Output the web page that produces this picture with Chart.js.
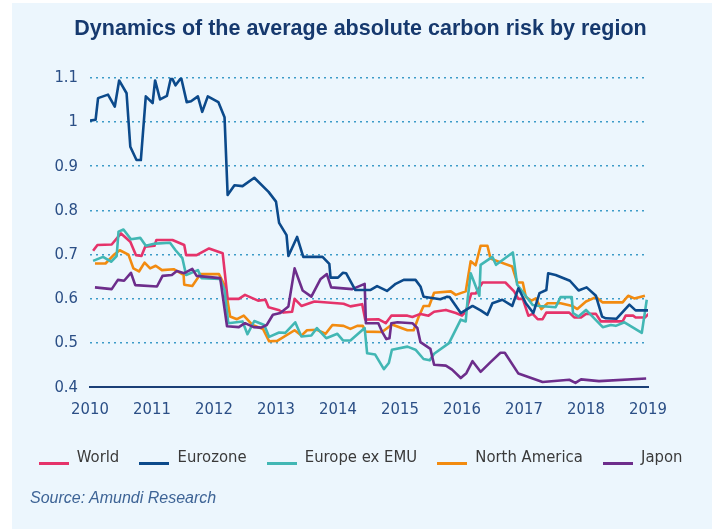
<!DOCTYPE html>
<html><head><meta charset="utf-8">
<script src="https://cdn.jsdelivr.net/npm/chart.js@4.4.1/dist/chart.umd.min.js"></script>
<style>
html,body{margin:0;padding:0;background:#ffffff;}
#panel{position:absolute;left:12px;top:3px;width:700px;height:526px;background:#ecf6fd;}
#wrap{position:absolute;left:0;top:0;width:712px;height:529px;}
#src{position:absolute;left:30px;top:490px;line-height:16px;font-family:"Liberation Sans",Arial,sans-serif;font-style:italic;font-size:16px;color:#3e6496;white-space:nowrap;}
</style></head><body>
<div id="panel"></div>
<div id="wrap"><canvas id="c" width="712" height="529"></canvas></div>
<div id="src">Source: Amundi Research</div>
<script>
const titleText = 'Dynamics of the average absolute carbon risk by region';
const seriesNames = ['World', 'Eurozone', 'Europe ex EMU', 'North America', 'Japon'];
const seriesColors = ['#e5336a', '#0c4a8b', '#42b7b4', '#f28b10', '#6d2d8b'];
const xTickValues = [2010, 2011, 2012, 2013, 2014, 2015, 2016, 2017, 2018, 2019];
const xTickLabels = ['2010', '2011', '2012', '2013', '2014', '2015', '2016', '2017', '2018', '2019'];
const yTickValues = [0.4, 0.5, 0.6, 0.7, 0.8, 0.9, 1.0, 1.1];
const yTickLabels = ['0.4', '0.5', '0.6', '0.7', '0.8', '0.9', '1', '1.1'];

const world = [[2010.05,0.709],[2010.12,0.722],[2010.35,0.723],[2010.50,0.748],[2010.65,0.729],[2010.74,0.699],[2010.83,0.697],[2010.89,0.718],[2011.04,0.720],[2011.07,0.733],[2011.33,0.733],[2011.52,0.722],[2011.55,0.699],[2011.72,0.699],[2011.92,0.714],[2012.14,0.703],[2012.22,0.600],[2012.40,0.600],[2012.50,0.609],[2012.71,0.596],[2012.83,0.598],[2012.88,0.581],[2013.04,0.575],[2013.12,0.569],[2013.26,0.571],[2013.30,0.600],[2013.41,0.584],[2013.62,0.594],[2014.09,0.589],[2014.20,0.583],[2014.39,0.588],[2014.44,0.553],[2014.65,0.554],[2014.77,0.545],[2014.86,0.562],[2015.12,0.562],[2015.20,0.559],[2015.33,0.566],[2015.46,0.562],[2015.55,0.571],[2015.74,0.575],[2015.90,0.568],[2016.00,0.562],[2016.06,0.571],[2016.15,0.612],[2016.22,0.612],[2016.33,0.637],[2016.70,0.637],[2016.84,0.617],[2016.91,0.600],[2016.98,0.600],[2017.07,0.562],[2017.14,0.566],[2017.22,0.554],[2017.30,0.554],[2017.36,0.569],[2017.73,0.569],[2017.81,0.558],[2017.92,0.558],[2018.00,0.566],[2018.16,0.566],[2018.24,0.549],[2018.59,0.549],[2018.64,0.562],[2018.76,0.562],[2018.80,0.558],[2018.95,0.558],[2019.01,0.566]];

const eurozone = [[2010.00,1.003],[2010.09,1.005],[2010.13,1.054],[2010.29,1.062],[2010.40,1.035],[2010.47,1.094],[2010.59,1.065],[2010.65,0.944],[2010.75,0.914],[2010.82,0.914],[2010.90,1.058],[2011.01,1.043],[2011.05,1.094],[2011.13,1.051],[2011.24,1.059],[2011.31,1.103],[2011.38,1.083],[2011.47,1.100],[2011.56,1.045],[2011.63,1.047],[2011.74,1.058],[2011.81,1.023],[2011.90,1.058],[2012.07,1.045],[2012.17,1.011],[2012.22,0.835],[2012.33,0.857],[2012.46,0.855],[2012.65,0.874],[2012.88,0.842],[2013.00,0.820],[2013.05,0.772],[2013.17,0.744],[2013.20,0.697],[2013.34,0.740],[2013.44,0.695],[2013.75,0.695],[2013.86,0.679],[2013.88,0.648],[2014.00,0.648],[2014.08,0.659],[2014.13,0.658],[2014.28,0.620],[2014.52,0.620],[2014.63,0.629],[2014.79,0.618],[2014.93,0.634],[2015.06,0.643],[2015.25,0.643],[2015.33,0.628],[2015.38,0.605],[2015.65,0.599],[2015.76,0.605],[2015.80,0.604],[2015.98,0.568],[2016.17,0.584],[2016.30,0.574],[2016.41,0.564],[2016.49,0.590],[2016.65,0.598],[2016.81,0.584],[2016.91,0.624],[2017.03,0.590],[2017.15,0.568],[2017.25,0.613],[2017.36,0.620],[2017.39,0.658],[2017.51,0.654],[2017.74,0.641],[2017.88,0.619],[2018.01,0.626],[2018.16,0.607],[2018.26,0.560],[2018.32,0.556],[2018.49,0.555],[2018.70,0.587],[2018.80,0.574],[2019.00,0.574]];

const europeExEmu = [[2010.05,0.686],[2010.21,0.695],[2010.34,0.684],[2010.43,0.697],[2010.46,0.752],[2010.54,0.757],[2010.66,0.735],[2010.81,0.738],[2010.90,0.720],[2011.05,0.725],[2011.29,0.727],[2011.38,0.710],[2011.49,0.692],[2011.55,0.654],[2011.74,0.665],[2011.80,0.647],[2012.10,0.645],[2012.17,0.620],[2012.23,0.545],[2012.46,0.549],[2012.54,0.520],[2012.65,0.550],[2012.81,0.541],[2012.89,0.514],[2013.05,0.524],[2013.15,0.523],[2013.31,0.547],[2013.41,0.515],[2013.57,0.517],[2013.66,0.534],[2013.81,0.511],[2013.99,0.521],[2014.08,0.506],[2014.20,0.506],[2014.43,0.534],[2014.47,0.477],[2014.60,0.474],[2014.74,0.441],[2014.82,0.455],[2014.87,0.485],[2015.12,0.492],[2015.25,0.485],[2015.38,0.464],[2015.48,0.461],[2015.55,0.476],[2015.79,0.500],[2015.98,0.553],[2016.06,0.549],[2016.09,0.598],[2016.14,0.658],[2016.28,0.607],[2016.30,0.677],[2016.49,0.695],[2016.55,0.677],[2016.82,0.705],[2016.89,0.632],[2017.14,0.586],[2017.25,0.584],[2017.51,0.581],[2017.59,0.604],[2017.77,0.604],[2017.79,0.568],[2017.88,0.560],[2018.00,0.575],[2018.27,0.536],[2018.40,0.541],[2018.48,0.539],[2018.62,0.547],[2018.90,0.523],[2018.98,0.598]];

const northAmerica = [[2010.08,0.680],[2010.25,0.680],[2010.38,0.699],[2010.48,0.710],[2010.62,0.700],[2010.70,0.669],[2010.79,0.662],[2010.88,0.682],[2010.97,0.669],[2011.06,0.675],[2011.16,0.665],[2011.35,0.667],[2011.51,0.654],[2011.52,0.632],[2011.65,0.629],[2011.78,0.656],[2012.08,0.656],[2012.18,0.628],[2012.26,0.560],[2012.37,0.554],[2012.48,0.562],[2012.62,0.541],[2012.79,0.532],[2012.89,0.504],[2013.02,0.505],[2013.30,0.529],[2013.41,0.517],[2013.50,0.529],[2013.66,0.530],[2013.80,0.521],[2013.91,0.541],[2014.09,0.539],[2014.20,0.532],[2014.31,0.539],[2014.40,0.539],[2014.44,0.526],[2014.71,0.525],[2014.87,0.542],[2015.12,0.529],[2015.22,0.529],[2015.30,0.559],[2015.38,0.584],[2015.47,0.584],[2015.55,0.614],[2015.82,0.617],[2015.90,0.609],[2016.06,0.617],[2016.14,0.685],[2016.22,0.676],[2016.30,0.720],[2016.41,0.720],[2016.46,0.691],[2016.81,0.673],[2016.89,0.637],[2016.98,0.637],[2017.03,0.604],[2017.12,0.596],[2017.19,0.601],[2017.28,0.577],[2017.38,0.590],[2017.59,0.590],[2017.78,0.584],[2017.86,0.577],[2018.00,0.594],[2018.16,0.604],[2018.27,0.592],[2018.59,0.592],[2018.68,0.607],[2018.78,0.601],[2018.95,0.607]];

const japon = [[2010.08,0.626],[2010.35,0.622],[2010.45,0.643],[2010.55,0.641],[2010.66,0.659],[2010.73,0.631],[2011.08,0.628],[2011.17,0.652],[2011.32,0.654],[2011.40,0.663],[2011.52,0.658],[2011.65,0.668],[2011.72,0.652],[2012.10,0.647],[2012.21,0.538],[2012.40,0.536],[2012.50,0.545],[2012.64,0.536],[2012.76,0.535],[2012.85,0.541],[2012.95,0.564],[2013.07,0.568],[2013.20,0.583],[2013.30,0.669],[2013.43,0.619],[2013.57,0.605],[2013.72,0.645],[2013.82,0.656],[2013.89,0.626],[2014.23,0.622],[2014.43,0.634],[2014.45,0.545],[2014.65,0.545],[2014.71,0.526],[2014.78,0.509],[2014.83,0.511],[2014.86,0.545],[2014.96,0.547],[2015.20,0.545],[2015.28,0.534],[2015.33,0.502],[2015.49,0.487],[2015.55,0.451],[2015.74,0.449],[2015.84,0.440],[2015.98,0.421],[2016.07,0.432],[2016.17,0.459],[2016.30,0.435],[2016.46,0.457],[2016.62,0.478],[2016.69,0.478],[2016.91,0.431],[2017.30,0.412],[2017.73,0.417],[2017.83,0.410],[2017.92,0.418],[2018.21,0.414],[2018.97,0.420]];

const seriesData = [world, eurozone, europeExEmu, northAmerica, japon];
const drawOrder = [3, 0, 2, 4, 1];

// pick a narrow font that is actually installed
function measure(font, txt) {
  const c = document.createElement('canvas').getContext('2d');
  c.font = '10px serif';
  c.font = font;
  if (c.font === '10px serif') return null;
  return c.measureText(txt).width;
}
const probe = 'North America';
let nf;
const monoW = measure("20px monospace", probe);
const libNarrowW = measure("20px 'Liberation Sans Narrow', monospace", probe);
const djW = measure("20px 'DejaVu Sans'", probe);
const djCW = measure("normal condensed 20px 'DejaVu Sans'", probe);
if (libNarrowW && Math.abs(libNarrowW - monoW) > 0.5) {
  nf = { family: "'Liberation Sans Narrow'", weight: 'normal', w20: libNarrowW };
} else if (djCW && djCW < 0.95 * djW) {
  nf = { family: "'DejaVu Sans'", weight: 'normal condensed', w20: djCW };
} else {
  nf = { family: "'Liberation Sans', Arial, sans-serif", weight: 'normal', w20: measure("20px 'Liberation Sans'", probe) };
}
const textSize = Math.min(20, Math.round(20 * 107 / nf.w20 * 2) / 2);

// legend symbol: a short line sitting near the text baseline
function lineSymbol(color) {
  const cv = document.createElement('canvas');
  cv.width = 30; cv.height = 16;
  const g = cv.getContext('2d');
  g.fillStyle = color;
  g.fillRect(0, 12, 30, 3);
  return cv;
}

const datasets = seriesNames.map((name, i) => ({
  label: name,
  data: seriesData[i].map(p => ({x: p[0], y: p[1]})),
  borderColor: seriesColors[i],
  backgroundColor: seriesColors[i],
  borderWidth: 2.6,
  pointRadius: 0,
  tension: 0,
  fill: false,
  borderJoinStyle: 'round',
  order: drawOrder[i]
}));

const legendPad = 20;
const legendTop = 458 - legendPad - textSize / 2;
const legendHeight = textSize + legendPad + 10;
const plotBottom = 387.3;

new Chart(document.getElementById('c'), {
  type: 'line',
  data: { datasets },
  options: {
    responsive: false,
    animation: false,
    devicePixelRatio: 1,
    layout: { padding: { left: 9, right: 0, top: 0, bottom: 529 - legendTop - legendHeight } },
    plugins: {
      title: {
        display: true, text: titleText, color: '#16396e',
        font: { family: "'Liberation Sans', Arial, sans-serif", size: 21.5, weight: 'bold' },
        padding: { top: 16, bottom: 36 }
      },
      legend: {
        position: 'bottom',
        labels: {
          boxWidth: 30, boxHeight: 3, padding: legendPad, color: '#3a3a3a',
          usePointStyle: true, pointStyleWidth: 30,
          font: { family: nf.family, weight: nf.weight, size: textSize },
          generateLabels: (chart) => {
            const items = Chart.defaults.plugins.legend.labels.generateLabels(chart);
            items.forEach(it => {
              it.lineWidth = 0;
              it.pointStyle = lineSymbol(seriesColors[it.datasetIndex]);
            });
            return items.sort((a, b) => a.datasetIndex - b.datasetIndex);
          }
        }
      },
      tooltip: { enabled: false }
    },
    scales: {
      x: {
        type: 'linear', min: 2010, max: 2019,
        afterBuildTicks: s => { s.ticks = xTickValues.map(v => ({ value: v })); },
        afterFit: s => { s.height = legendTop - plotBottom; },
        ticks: {
          callback: (v) => xTickLabels[xTickValues.indexOf(v)],
          font: { family: nf.family, weight: nf.weight, size: textSize }, color: '#2b4f86',
          padding: 13, maxRotation: 0, autoSkip: false
        },
        grid: { display: false, drawTicks: false },
        border: { display: true, color: '#1b3f77', width: 2 }
      },
      y: {
        type: 'linear', min: 0.4, max: 1.1,
        afterBuildTicks: s => { s.ticks = yTickValues.map(v => ({ value: v })); },
        afterFit: s => { s.width = 81; },
        ticks: {
          callback: (v) => yTickLabels[yTickValues.findIndex(t => Math.abs(t - v) < 1e-6)],
          font: { family: nf.family, weight: nf.weight, size: textSize }, color: '#2b4f86', padding: 12
        },
        grid: {
          drawTicks: false, lineWidth: 1.5,
          color: ctx => (ctx.tick && ctx.tick.value > 0.45) ? '#3d9bc8' : 'rgba(0,0,0,0)'
        },
        border: { display: false, dash: [2, 4] }
      },
      yR: {
        type: 'linear', position: 'right', display: true,
        afterFit: s => { s.width = 64; },
        ticks: { display: false },
        grid: { display: false, drawTicks: false },
        border: { display: false }
      }
    }
  }
});
</script>
</body></html>
